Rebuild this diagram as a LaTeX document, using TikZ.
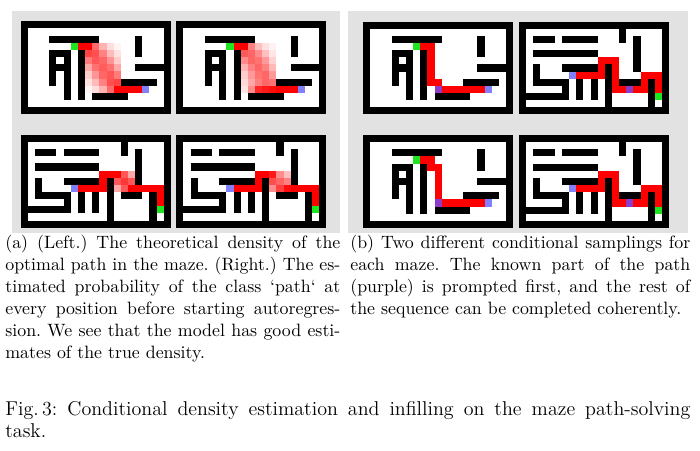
\documentclass[tikz,border=0pt]{standalone}
\definecolor{pathred}{RGB}{255,0,0}
\definecolor{startgreen}{RGB}{30,230,30}
\definecolor{endblue}{RGB}{128,128,255}
\definecolor{promptpurple}{RGB}{140,60,200}
\definecolor{panelgray}{RGB}{226,226,226}
\tikzset{
  mz/.style={shift={#1}, x=4.004pt, y=-4.004pt},
  captext/.style={inner sep=0pt, align=left, font={\fontsize{10}{12.3}\selectfont\frenchspacing}},
  figtext/.style={inner sep=0pt, align=left, font={\fontsize{11.2}{12.3}\selectfont\frenchspacing}},
}
% color, r1, c1, r2, c2
\newcommand\mzrect[5]{\fill[#1] (#3,#2) rectangle (#5+1,#4+1);}
\newcommand\mzframe{\fill[black] (0,0) rectangle (21,13); \fill[white] (1,1) rectangle (20,12);}
% row, first col, list of percentages
\newcommand\densrow[3]{\foreach \p [count=\i from 0] in {#3} {\fill[red!\p!white] (#2+\i,#1) rectangle ++(1,1);}}
\newcommand\wallsA{%
  \mzrect{black}{2}{4}{2}{10}
  \mzrect{black}{4}{4}{8}{4}
  \mzrect{black}{4}{4}{4}{6}
  \mzrect{black}{4}{6}{10}{6}
  \mzrect{black}{6}{4}{6}{6}
  \mzrect{black}{4}{8}{10}{8}
  \mzrect{black}{10}{10}{10}{14}
  \mzrect{black}{8}{14}{8}{18}
  \mzrect{black}{2}{16}{4}{16}
  \mzrect{black}{6}{16}{6}{19}}
\newcommand\wallsB{%
  \mzrect{black}{2}{2}{2}{4}
  \mzrect{black}{2}{6}{2}{10}
  \mzrect{black}{1}{14}{2}{14}
  \mzrect{black}{2}{16}{6}{16}
  \mzrect{black}{4}{2}{4}{10}
  \mzrect{black}{6}{6}{6}{10}
  \mzrect{black}{6}{2}{8}{2}
  \mzrect{black}{8}{2}{8}{6}
  \mzrect{black}{8}{6}{10}{6}
  \mzrect{black}{10}{1}{10}{6}
  \mzrect{black}{8}{8}{10}{8}
  \mzrect{black}{8}{10}{10}{10}
  \mzrect{black}{6}{12}{11}{12}
  \mzrect{black}{8}{14}{8}{16}
  \mzrect{black}{8}{18}{11}{18}}
\newcommand\mzendsA{\mzrect{startgreen}{3}{7}{3}{7}\mzrect{endblue}{9}{17}{9}{17}}
\newcommand\mzendsB{\mzrect{endblue}{7}{7}{7}{7}\mzrect{startgreen}{10}{19}{10}{19}}
\begin{document}
\begin{tikzpicture}[x=0.56pt,y=-0.56pt]
\useasboundingbox (0,0) rectangle (700,450);
\fill[white] (0,0) rectangle (700,450);
\fill[panelgray] (12,11) rectangle (340,233);
\fill[panelgray] (348,11) rectangle (688,233);
% ---- left panel, maze A, true density
\begin{scope}[mz={(20.7,21.3)}]
  \mzframe
  \mzrect{pathred}{3}{8}{3}{8}
  \densrow{3}{9}{100,58,30,13,4}
  \densrow{4}{9}{74,69,49,27,11}
  \densrow{5}{9}{52,66,60,42,20}
  \densrow{6}{9}{34,56,64,56,34}
  \densrow{7}{9}{20,42,60,66,52}
  \densrow{8}{9}{11,27,49,69,74}
  \densrow{9}{9}{4,13,30,58,100}
  \mzrect{pathred}{9}{14}{9}{16}
  \mzendsA \wallsA
\end{scope}
% ---- left panel, maze A, model estimate
\begin{scope}[mz={(176.3,21.3)}]
  \mzframe
  \mzrect{pathred}{3}{8}{3}{8}
  \densrow{3}{9}{100,50,25,12,5}
  \densrow{4}{9}{65,60,45,25,10}
  \densrow{5}{9}{45,60,55,40,18}
  \densrow{6}{9}{30,50,60,50,28}
  \densrow{7}{9}{20,40,55,60,40}
  \densrow{8}{9}{15,35,50,60,55}
  \densrow{9}{9}{10,45,85,90,95}
  \mzrect{pathred}{9}{14}{9}{16}
  \mzendsA \wallsA
\end{scope}
% ---- left panel, maze B, true density
\begin{scope}[mz={(20.7,134.8)}]
  \mzframe
  \mzrect{pathred}{7}{8}{7}{11}
  \mzrect{pathred}{5}{11}{6}{11}
  \mzrect{pathred}{5}{12}{5}{12}
  \densrow{5}{13}{100,66,34}
  \densrow{6}{13}{66,78,66}
  \densrow{7}{13}{34,66,100}
  \mzrect{pathred}{7}{16}{7}{19}
  \mzrect{pathred}{8}{19}{9}{19}
  \mzendsB \wallsB
\end{scope}
% ---- left panel, maze B, model estimate
\begin{scope}[mz={(176.3,134.8)}]
  \mzframe
  \mzrect{pathred}{7}{8}{7}{11}
  \mzrect{pathred}{5}{11}{6}{11}
  \mzrect{pathred}{5}{12}{5}{12}
  \densrow{5}{13}{90,45,25}
  \densrow{6}{13}{70,60,50}
  \densrow{7}{13}{45,75,95}
  \mzrect{pathred}{7}{16}{7}{19}
  \mzrect{pathred}{8}{19}{9}{19}
  \mzendsB \wallsB
\end{scope}
% ---- right panel, maze A, sample 1
\begin{scope}[mz={(363,21.5)}]
  \mzframe
  \mzrect{pathred}{3}{8}{3}{9}
  \mzrect{pathred}{4}{9}{8}{9}
  \mzrect{pathred}{8}{10}{8}{10}
  \mzrect{promptpurple}{9}{10}{9}{10}
  \mzrect{pathred}{9}{11}{9}{16}
  \mzendsA \wallsA
\end{scope}
% ---- right panel, maze B, sample 1
\begin{scope}[mz={(519,21.5)}]
  \mzframe
  \mzrect{pathred}{7}{8}{7}{11}
  \mzrect{pathred}{5}{11}{6}{11}
  \mzrect{pathred}{5}{12}{5}{13}
  \mzrect{pathred}{6}{13}{9}{13}
  \mzrect{pathred}{9}{14}{9}{14}
  \mzrect{promptpurple}{9}{15}{9}{15}
  \mzrect{pathred}{9}{16}{9}{17}
  \mzrect{pathred}{7}{17}{8}{17}
  \mzrect{pathred}{7}{18}{7}{19}
  \mzrect{pathred}{8}{19}{9}{19}
  \mzendsB \wallsB
\end{scope}
% ---- right panel, maze A, sample 2
\begin{scope}[mz={(363,135)}]
  \mzframe
  \mzrect{pathred}{3}{8}{3}{9}
  \mzrect{pathred}{4}{9}{4}{10}
  \mzrect{pathred}{5}{10}{8}{10}
  \mzrect{promptpurple}{9}{10}{9}{10}
  \mzrect{pathred}{9}{11}{9}{16}
  \mzendsA \wallsA
\end{scope}
% ---- right panel, maze B, sample 2
\begin{scope}[mz={(519,135)}]
  \mzframe
  \mzrect{pathred}{7}{8}{7}{11}
  \mzrect{pathred}{5}{11}{6}{11}
  \mzrect{pathred}{5}{12}{5}{13}
  \mzrect{pathred}{6}{13}{9}{13}
  \mzrect{pathred}{9}{14}{9}{14}
  \mzrect{promptpurple}{9}{15}{9}{15}
  \mzrect{pathred}{9}{16}{9}{17}
  \mzrect{pathred}{7}{17}{8}{17}
  \mzrect{pathred}{7}{18}{7}{19}
  \mzrect{pathred}{8}{19}{9}{19}
  \mzendsB \wallsB
\end{scope}
% ---- captions
\node[captext, anchor=north west] (capa) at (5,235) {%
\hbox to 187.6pt{(a) (Left.) The theoretical density of the}\\
\hbox to 187.6pt{optimal path in the maze. (Right.) The es-}\\
\hbox to 187.6pt{timated probability of the class `path` at}\\
\hbox to 187.6pt{every position before starting autoregres-}\\
\hbox to 187.6pt{sion. We see that the model has good esti-}\\
\hbox{mates of the true density.}};
\node[captext, anchor=north west] (capb) at (350,235) {%
\hbox to 190.4pt{(b) Two different conditional samplings for}\\
\hbox to 190.4pt{each maze. The known part of the path}\\
\hbox to 190.4pt{(purple) is prompted first, and the rest of}\\
\hbox{the sequence can be completed coherently.}};
\node[figtext, anchor=north west] (capfig) at (5,401) {%
\hbox to 383.6pt{Fig.\,3: Conditional density estimation and infilling on the maze path-solving}\\
\hbox{task.}};
\end{tikzpicture}
\end{document}
